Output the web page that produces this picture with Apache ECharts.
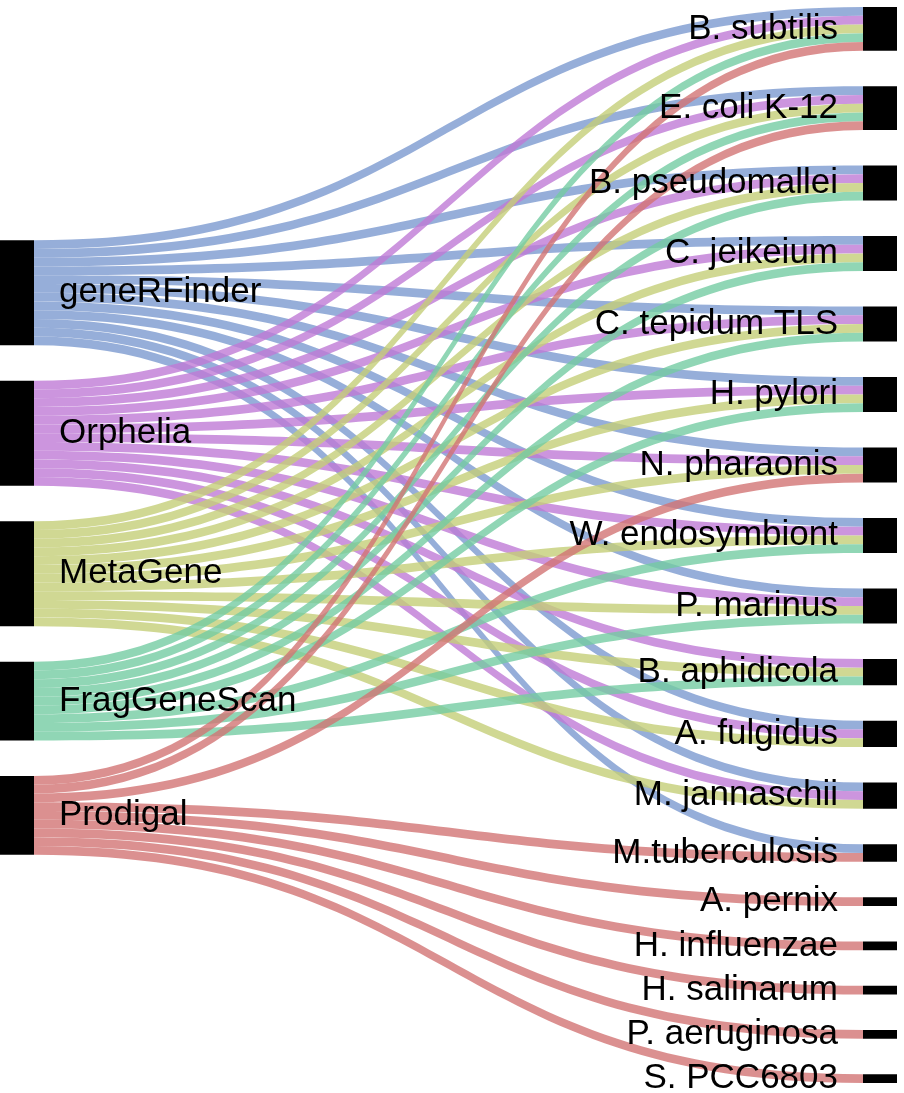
<!doctype html>
<html lang="en">
<head>
    <meta charset="UTF-8">
    <title>Sankey</title>
    <style>
        *{
            margin:0;
            padding:0;
        }
        html,body {
            height:100%;
            background:#fff;
        }
        #main{
            width:904px;
            height:1093px;
        }
    </style>
</head>
<body>

<div id="main"></div>
<script src="https://cdn.jsdelivr.net/npm/echarts@6/dist/echarts.min.js"></script>
<script>

    // tools (left column)
    var tools = ['geneRFinder', 'Orphelia', 'MetaGene', 'FragGeneScan', 'Prodigal'];
    var toolColors = ['#7c9ad0', '#bf7ad6', '#c4ce78', '#74cca2', '#d27474'];

    // genomes (right column)
    var species = ['B. subtilis', 'E. coli K-12', 'B. pseudomallei', 'C. jeikeium', 'C. tepidum TLS',
        'H. pylori', 'N. pharaonis', 'W. endosymbiont', 'P. marinus', 'B. aphidicola',
        'A. fulgidus', 'M. jannaschii', 'M.tuberculosis', 'A. pernix', 'H. influenzae',
        'H. salinarum', 'P. aeruginosa', 'S. PCC6803'];

    // 1 = tool was run on that genome
    var geneRFinder  = [1, 1, 1, 1, 1, 1, 1, 1, 1, 0, 1, 1, 1, 0, 0, 0, 0, 0];
    var orphelia     = [1, 1, 1, 1, 1, 1, 1, 1, 1, 1, 1, 1, 0, 0, 0, 0, 0, 0];
    var metaGene     = [1, 1, 1, 1, 1, 1, 1, 1, 1, 1, 1, 1, 0, 0, 0, 0, 0, 0];
    var fragGeneScan = [1, 1, 1, 1, 1, 1, 0, 1, 1, 1, 0, 0, 0, 0, 0, 0, 0, 0];
    var prodigal     = [1, 1, 0, 0, 0, 0, 1, 0, 0, 0, 0, 0, 1, 1, 1, 1, 1, 1];

    var matrix = [geneRFinder, orphelia, metaGene, fragGeneScan, prodigal];

    // invisible node on top of the left column, pushes the tools down to the middle
    var SPACER_VALUE = 22.6;

    var nodes = [{
        name: '__spacer',
        value: SPACER_VALUE,
        itemStyle: {opacity: 0},
        label: {show: false}
    }];
    tools.forEach(function (t) {
        nodes.push({name: t, label: {position: 'right'}});
    });
    species.forEach(function (s) {
        nodes.push({name: s, label: {position: 'left'}});
    });

    var links = [];
    matrix.forEach(function (row, i) {
        row.forEach(function (v, j) {
            if (v) {
                links.push({
                    source: tools[i],
                    target: species[j],
                    value: v,
                    lineStyle: {color: toolColors[i]}
                });
            }
        });
    });

    var myChart = echarts.init(document.getElementById('main'));

    myChart.setOption({
        animation: false,
        series: [{
            type: 'sankey',
            left: 0,
            right: 7,
            top: 7,
            bottom: 10,
            nodeWidth: 34,
            nodeGap: 35.5,
            nodeAlign: 'left',
            layoutIterations: 0,
            draggable: false,
            emphasis: {disabled: true},
            itemStyle: {
                color: '#000',
                borderWidth: 0
            },
            lineStyle: {
                opacity: 0.8,
                curveness: 0.5
            },
            label: {
                color: '#000',
                fontSize: 35,
                fontFamily: 'Liberation Sans, Arial, sans-serif',
                distance: 25
            },
            data: nodes,
            links: links
        }]
    });

</script>
</body>
</html>
